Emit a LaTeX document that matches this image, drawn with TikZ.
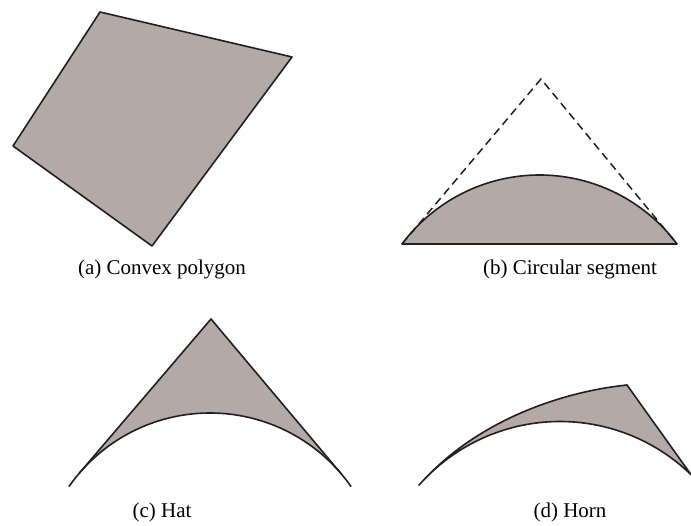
\documentclass[tikz,border=0pt]{standalone}
\usepackage{fontspec}
\setmainfont{Liberation Serif}
\definecolor{shapefill}{RGB}{180,169,166}
\definecolor{edge}{RGB}{35,31,32}
\tikzset{
  region/.style={fill=shapefill, draw=none},
  outline/.style={draw=edge, line width=1.6pt, line join=round, line cap=round},
  guide/.style={draw=edge, line width=1.5pt, dash pattern=on 8pt off 5pt},
  caption/.style={anchor=base, inner sep=0pt, font=\fontsize{21}{25}\selectfont}
}
\begin{document}
\begin{tikzpicture}[x=1pt,y=1pt]
\useasboundingbox (0,0) rectangle (691,525);

% (a) Convex polygon
\coordinate (p1) at (100,513);
\coordinate (p2) at (292,468);
\coordinate (p3) at (152,279);
\coordinate (p4) at (13,379);
\path[region] (p1) -- (p2) -- (p3) -- (p4) -- cycle;
\path[outline] (p1) -- (p2) -- (p3) -- (p4) -- cycle;

% (b) Circular segment
\coordinate (bl) at (402,281);
\coordinate (br) at (677,281);
\coordinate (bapex) at (541,446);
\path[region] (bl) arc[start angle=143.3, end angle=36.7, radius=171.5pt] -- cycle;
\path[guide] (bl) -- (bapex) -- (br);
\path[outline] (bl) arc[start angle=143.3, end angle=36.7, radius=171.5pt] -- cycle;

% (c) Hat
\coordinate (hc) at (210,-60);
\coordinate (hapex) at (211,206);
\path (hc) ++(139.5:172pt) coordinate (htl);
\path (hc) ++(40.1:172pt) coordinate (htr);
\path (hc) ++(145:172pt) coordinate (hl);
\path[region] (hapex) -- (htl) arc[start angle=139.5, end angle=40.1, radius=172pt] -- cycle;
\path[outline] (htl) -- (hapex) -- (htr);
\path[outline] (hl) arc[start angle=145, end angle=35, radius=172pt];

% (d) Horn
\coordinate (dc) at (560,-84.5);
\path (dc) ++(138.6:188pt) coordinate (dl);
\path (dc) ++(45.8:188pt) coordinate (dr);
\coordinate (dtip) at (627,140);
\path[region] (dl) .. controls (475.3,103.7) and (560,133) .. (dtip) -- (dr)
   arc[start angle=45.8, end angle=138.6, radius=188pt] -- cycle;
\path[outline] (dl) .. controls (475.3,103.7) and (560,133) .. (dtip) -- (dr)
   arc[start angle=45.8, end angle=138.6, radius=188pt] -- cycle;

% captions
\node[caption] (capa) at (162,250) {(a) Convex polygon};
\node[caption] (capb) at (570,250) {(b) Circular segment};
\node[caption] (capc) at (162,7.5) {(c) Hat};
\node[caption] (capd) at (570,7.5) {(d) Horn};
\end{tikzpicture}
\end{document}
